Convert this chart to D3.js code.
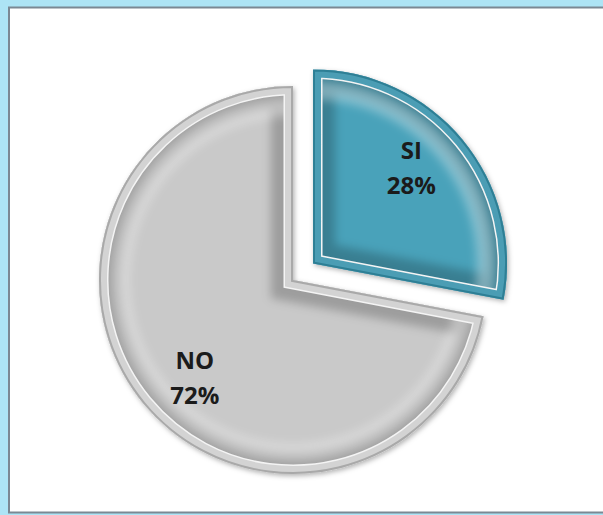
<!DOCTYPE html>
<html>
<head>
<meta charset="utf-8">
<script src="https://cdn.jsdelivr.net/npm/d3@7"></script>
<style>
  html, body { margin: 0; padding: 0; background: #ade4f5; }
  svg { display: block; }
</style>
</head>
<body>
<div id="chart"></div>
<script>
// Chart data
var categories = ["SI", "NO"];
var values = [28, 72];
var labels = ["28%", "72%"];

// Size of the picture
var width = 603, height = 515;
var center = { x: 293, y: 280 };
var radius = 194;
var explode = [26, 0];       // how far each slice is pulled out
var labelRadius = 138;
var labelTurn = -5 * Math.PI / 180;  // labels sit a bit left of the mid angle

// Colors for each slice: inner face, rim, outline
var faceColor = ["#4aa2ba", "#c9c9c9"];
var rimColor = ["#4b9db4", "#d3d3d3"];
var edgeColor = ["#2e7f95", "#a9a9a9"];

var svg = d3.select("#chart")
    .append("svg")
    .attr("width", width)
    .attr("height", height);

var defs = svg.append("defs");

// Soft shadow under the slices
var shadow = defs.append("filter").attr("id", "shadow")
    .attr("x", "-20%").attr("y", "-20%").attr("width", "140%").attr("height", "140%");
shadow.append("feDropShadow")
    .attr("dx", 1.5).attr("dy", 2).attr("stdDeviation", 2.5)
    .attr("flood-color", "#000").attr("flood-opacity", 0.3);

// Blur used for the inner pillow shading
defs.append("filter").attr("id", "soft")
    .attr("x", "-20%").attr("y", "-20%").attr("width", "140%").attr("height", "140%")
    .append("feGaussianBlur").attr("stdDeviation", 5);

// Frame: light blue back, white panel with a gray border
svg.append("rect")
    .attr("width", width).attr("height", height)
    .attr("fill", "#ade4f5");
svg.append("rect")
    .attr("x", 9).attr("y", 7.5)
    .attr("width", width).attr("height", 505)
    .attr("fill", "#ffffff")
    .attr("stroke", "#7b8893")
    .attr("stroke-width", 2);

var pie = d3.pie().sort(null).startAngle(0).endAngle(2 * Math.PI);
var arcs = pie(values);

var arc = d3.arc().innerRadius(0).outerRadius(radius);

var pieGroup = svg.append("g")
    .attr("transform", `translate(${center.x}, ${center.y})`);

// Offset of a slice along its mid angle
function offset(d, dist) {
    var mid = (d.startAngle + d.endAngle) / 2;
    return [dist * Math.sin(mid), -dist * Math.cos(mid)];
}

var slices = pieGroup.selectAll("g.slice")
    .data(arcs)
    .enter()
    .append("g")
    .attr("class", "slice")
    .attr("transform", (d, i) => {
        var o = offset(d, explode[i]);
        return `translate(${o[0]}, ${o[1]})`;
    });

slices.each(function (d, i) {
    var g = d3.select(this);
    var path = arc(d);

    defs.append("clipPath").attr("id", "clip" + i)
        .append("path").attr("d", path);

    // Base face with shadow
    g.append("path")
        .attr("d", path)
        .attr("fill", faceColor[i])
        .attr("filter", "url(#shadow)");

    var inside = g.append("g").attr("clip-path", `url(#clip${i})`);

    // Pillow shading near the edges
    inside.append("path")
        .attr("d", path)
        .attr("fill", "none")
        .attr("stroke", "#000")
        .attr("stroke-opacity", 0.22)
        .attr("stroke-width", 44)
        .attr("filter", "url(#soft)");

    // Light glow along the arc
    inside.append("path")
        .attr("d", d3.arc().innerRadius(radius - 30).outerRadius(radius - 12)(d))
        .attr("fill", "#ffffff")
        .attr("fill-opacity", 0.35)
        .attr("filter", "url(#soft)");

    // Thin light line inside the rim
    inside.append("path")
        .attr("d", path)
        .attr("fill", "none")
        .attr("stroke", "#f4f4f4")
        .attr("stroke-width", 19);

    // Rim
    inside.append("path")
        .attr("d", path)
        .attr("fill", "none")
        .attr("stroke", rimColor[i])
        .attr("stroke-width", 16);

    // Darker outer line of the rim
    inside.append("path")
        .attr("d", path)
        .attr("fill", "none")
        .attr("stroke", edgeColor[i])
        .attr("stroke-width", 4);
});

// Labels: category and percent
var labelGroup = slices.append("text")
    .attr("text-anchor", "middle")
    .attr("font-family", "'Open Sans', sans-serif")
    .attr("font-weight", "bold")
    .attr("font-size", "24px")
    .attr("fill", "#1b1b1b")
    .attr("transform", d => {
        var mid = (d.startAngle + d.endAngle) / 2 + labelTurn;
        return `translate(${labelRadius * Math.sin(mid)}, ${-labelRadius * Math.cos(mid)})`;
    });

labelGroup.append("tspan")
    .attr("x", 0).attr("y", -8)
    .text((d, i) => categories[i]);

labelGroup.append("tspan")
    .attr("x", 0).attr("y", 27)
    .text((d, i) => labels[i]);
</script>
</body>
</html>
